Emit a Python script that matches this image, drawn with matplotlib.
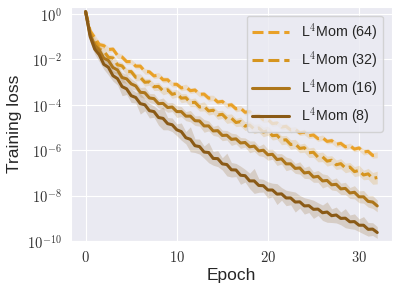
import numpy as np
import matplotlib
matplotlib.use("Agg")
import matplotlib.pyplot as plt
import seaborn as sns
from matplotlib.ticker import FuncFormatter, FixedLocator

# log10 of the training loss, sampled every half epoch (0 .. 32)
epochs = np.arange(0, 32.5, 0.5)

loss_64 = [0.1, -0.75, -1.05, -1.35, -1.4, -1.57, -1.55, -1.83, -1.9, -2.1,
           -2.1, -2.3, -2.3, -2.53, -2.55, -2.73, -2.7, -2.9, -2.9, -3.1,
           -3.1, -3.26, -3.22, -3.38, -3.35, -3.54, -3.53, -3.71, -3.7, -3.88,
           -3.85, -4.03, -4.0, -4.18, -4.15, -4.33, -4.3, -4.49, -4.47, -4.66,
           -4.65, -4.83, -4.8, -4.98, -4.95, -5.11, -5.08, -5.24, -5.2, -5.36,
           -5.33, -5.49, -5.45, -5.61, -5.58, -5.74, -5.7, -5.85, -5.8, -5.95,
           -5.9, -6.08, -6.05, -6.23, -6.2]

loss_32 = [0.1, -0.85, -1.2, -1.55, -1.64, -1.91, -1.94, -2.24, -2.29, -2.54,
           -2.54, -2.79, -2.79, -3.01, -2.99, -3.21, -3.19, -3.39, -3.34, -3.54,
           -3.49, -3.71, -3.69, -3.91, -3.89, -4.1, -4.07, -4.27, -4.24, -4.45,
           -4.42, -4.62, -4.59, -4.78, -4.74, -4.94, -4.89, -5.07, -5.02, -5.2,
           -5.14, -5.36, -5.34, -5.56, -5.54, -5.75, -5.72, -5.92, -5.89, -6.11,
           -6.09, -6.31, -6.29, -6.48, -6.44, -6.64, -6.59, -6.78, -6.74, -6.94,
           -6.89, -7.09, -7.04, -7.24, -7.2]

loss_16 = [0.1, -0.92, -1.38, -1.6, -1.95, -2.05, -2.36, -2.47, -2.8, -2.86,
           -3.08, -3.17, -3.45, -3.47, -3.7, -3.73, -3.95, -3.94, -4.12, -4.1,
           -4.3, -4.3, -4.5, -4.5, -4.7, -4.71, -4.93, -4.93, -5.15, -5.14,
           -5.35, -5.34, -5.52, -5.5, -5.68, -5.66, -5.85, -5.82, -6.03, -6.0,
           -6.2, -6.18, -6.41, -6.38, -6.6, -6.6, -6.8, -6.78, -7.0, -6.97,
           -7.18, -7.15, -7.35, -7.33, -7.52, -7.5, -7.7, -7.68, -7.88, -7.85,
           -8.05, -8.05, -8.25, -8.28, -8.45]

loss_8 = [0.1, -1.0, -1.55, -1.8, -2.22, -2.35, -2.72, -2.85, -3.2, -3.3,
          -3.6, -3.68, -3.95, -4.0, -4.26, -4.3, -4.56, -4.6, -4.83, -4.88,
          -5.1, -5.18, -5.45, -5.52, -5.8, -5.84, -6.08, -6.1, -6.36, -6.37,
          -6.6, -6.63, -6.86, -6.87, -7.1, -7.12, -7.35, -7.35, -7.55, -7.56,
          -7.75, -7.75, -7.93, -7.92, -8.1, -8.1, -8.28, -8.27, -8.45, -8.44,
          -8.6, -8.59, -8.75, -8.72, -8.88, -8.85, -9.0, -8.99, -9.15, -9.14,
          -9.3, -9.3, -9.48, -9.47, -9.62]

# half-width of the shaded band, in decades
spread_64 = [0.05, 0.15, 0.14, 0.12, 0.13, 0.12, 0.11, 0.13, 0.12, 0.12,
             0.11, 0.12, 0.13, 0.12, 0.11, 0.12, 0.12, 0.13, 0.12, 0.11,
             0.12, 0.12, 0.13, 0.12, 0.12, 0.11, 0.12, 0.13, 0.12, 0.12,
             0.11, 0.12, 0.12, 0.13, 0.12, 0.12, 0.11, 0.12, 0.13, 0.12,
             0.12, 0.12, 0.11, 0.12, 0.13, 0.12, 0.12, 0.11, 0.12, 0.12,
             0.13, 0.12, 0.12, 0.11, 0.12, 0.12, 0.13, 0.12, 0.11, 0.12,
             0.12, 0.13, 0.12, 0.12, 0.13]
spread_32 = [0.05, 0.18, 0.16, 0.15, 0.16, 0.15, 0.14, 0.16, 0.15, 0.15,
             0.14, 0.16, 0.15, 0.17, 0.15, 0.16, 0.18, 0.17, 0.16, 0.18,
             0.17, 0.2, 0.18, 0.17, 0.19, 0.18, 0.2, 0.18, 0.17, 0.19,
             0.18, 0.2, 0.19, 0.18, 0.2, 0.19, 0.18, 0.2, 0.19, 0.21,
             0.2, 0.19, 0.18, 0.2, 0.19, 0.21, 0.2, 0.19, 0.2, 0.21,
             0.22, 0.2, 0.21, 0.22, 0.2, 0.21, 0.22, 0.21, 0.2, 0.22,
             0.23, 0.21, 0.24, 0.26, 0.28]
spread_16 = [0.05, 0.2, 0.18, 0.22, 0.18, 0.2, 0.24, 0.19, 0.22, 0.2,
             0.23, 0.18, 0.21, 0.25, 0.2, 0.22, 0.19, 0.24, 0.21, 0.2,
             0.26, 0.22, 0.2, 0.25, 0.21, 0.23, 0.28, 0.22, 0.2, 0.25,
             0.23, 0.21, 0.27, 0.22, 0.24, 0.2, 0.26, 0.23, 0.21, 0.28,
             0.24, 0.22, 0.26, 0.23, 0.3, 0.24, 0.22, 0.27, 0.24, 0.28,
             0.23, 0.26, 0.31, 0.25, 0.23, 0.28, 0.25, 0.27, 0.24, 0.29,
             0.26, 0.28, 0.25, 0.28, 0.26]
spread_8 = [0.05, 0.24, 0.22, 0.3, 0.22, 0.34, 0.24, 0.28, 0.4, 0.25,
            0.3, 0.24, 0.46, 0.26, 0.32, 0.25, 0.34, 0.5, 0.27, 0.3,
            0.26, 0.38, 0.27, 0.55, 0.3, 0.33, 0.27, 0.45, 0.3, 0.35,
            0.27, 0.5, 0.32, 0.29, 0.4, 0.28, 0.34, 0.55, 0.3, 0.28,
            0.36, 0.3, 0.46, 0.28, 0.34, 0.3, 0.44, 0.28, 0.36, 0.3,
            0.4, 0.28, 0.34, 0.45, 0.3, 0.35, 0.28, 0.42, 0.3, 0.34,
            0.28, 0.38, 0.3, 0.28, 0.26]

labels = ["L$^4$Mom (64)", "L$^4$Mom (32)", "L$^4$Mom (16)", "L$^4$Mom (8)"]
colors = ["#E9A128", "#D6951F", "#AD761B", "#8A5A16"]
styles = [(0, (3.6, 1.6)), (0, (3.6, 1.6)), "-", "-"]

sns.set_style("darkgrid")
plt.rcParams["font.family"] = ["Liberation Sans", "DejaVu Sans"]
plt.rcParams["mathtext.fontset"] = "cm"

fig = plt.figure(figsize=(3.99, 2.93), dpi=100)
ax = fig.add_axes([0.178, 0.177, 0.804, 0.799])

series = [(loss_64, spread_64), (loss_32, spread_32),
          (loss_16, spread_16), (loss_8, spread_8)]
for (vals, sp), lab, c, ls in zip(series, labels, colors, styles):
    v = np.array(vals)
    s = np.array(sp)
    ax.fill_between(epochs, 10 ** (v - s), 10 ** (v + s), color=c,
                    alpha=0.2, linewidth=0)
    ax.plot(epochs, 10 ** v, color=c, linestyle=ls, linewidth=2.2, label=lab)

ax.set_yscale("log")
ax.set_ylim(1e-10, 2)
ax.yaxis.set_major_locator(FixedLocator([1e-10, 1e-8, 1e-6, 1e-4, 1e-2, 1e0]))
ax.yaxis.set_minor_locator(FixedLocator([]))
ax.yaxis.set_major_formatter(
    FuncFormatter(lambda v, p: "$10^{%d}$" % int(round(np.log10(v)))))
ax.set_xticks([0, 10, 20, 30])
ax.xaxis.set_major_formatter(FuncFormatter(lambda v, p: "$%d$" % v))
ax.tick_params(labelsize=10.5, colors="#333333", pad=3)

ax.set_xlabel("Epoch", fontsize=12.5, color="#262626", labelpad=2)
ax.set_ylabel("Training loss", fontsize=12.5, color="#262626", labelpad=4)

ax.legend(loc="upper right", fontsize=10.3, handlelength=2.6,
          labelspacing=0.5, borderaxespad=0.6)

fig.savefig("out.png", dpi=100)
